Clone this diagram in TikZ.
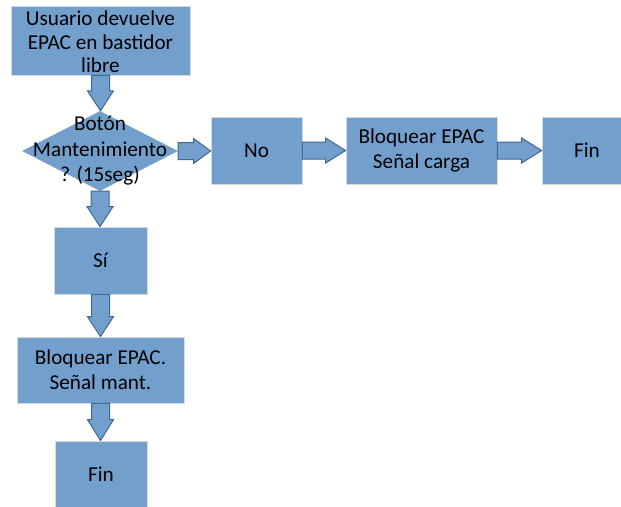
\documentclass[tikz,border=0pt]{standalone}
\usepackage{fontspec}
\setmainfont{Carlito}
\usetikzlibrary{shapes.geometric,calc}

\definecolor{boxblue}{HTML}{739FCD}
\definecolor{boxedge}{HTML}{D3DAE4}
\definecolor{arrowedge}{HTML}{3E6897}

\tikzset{
  box/.style={rectangle, fill=boxblue, draw=boxedge, line width=0.8pt,
    inner sep=0pt, align=center, text=black,
    font=\fontsize{21.2}{25}\selectfont},
  decision/.style={diamond, fill=boxblue, draw=none, inner sep=0pt},
  decisiontext/.style={align=center, inner sep=0pt, text=black,
    font=\fontsize{21.2}{25.5}\selectfont},
  blockarrow/.style={fill=boxblue, draw=arrowedge, line width=1pt,
    line join=miter}
}

% block arrow pointing down from #1.south to #2.north, head length #3
\newcommand\flowdown[3]{%
  \filldraw[blockarrow] let \p1=(#1.south), \p2=(#2.north) in
    (\x1-9pt,\y1) -- (\x1-9pt,\y2+#3) -- (\x1-13pt,\y2+#3) -- (\x1,\y2)
    -- (\x1+13pt,\y2+#3) -- (\x1+9pt,\y2+#3) -- (\x1+9pt,\y1) -- cycle;}
% block arrow pointing right from #1.east to #2.west, head length #3
\newcommand\flowright[3]{%
  \filldraw[blockarrow] let \p1=(#1.east), \p2=(#2.west) in
    (\x1,\y1-8.5pt) -- (\x2-#3,\y1-8.5pt) -- (\x2-#3,\y1-12.5pt) -- (\x2,\y1)
    -- (\x2-#3,\y1+12.5pt) -- (\x2-#3,\y1+8.5pt) -- (\x1,\y1+8.5pt) -- cycle;}

\begin{document}
\begin{tikzpicture}[x=1pt, y=-1pt]
  \clip (0,0) rectangle (621,506);
  \fill[white] (0,0) rectangle (621,506);

  % left column
  \node[box, minimum width=179pt, minimum height=69pt,
        font=\fontsize{21.2}{23.5}\selectfont] (start) at (100.5,40.5) {};
  \node[align=center, inner sep=0pt, text=black,
        font=\fontsize{21.2}{23.5}\selectfont] (starttext) at (100.5,42)
    {Usuario devuelve\\EPAC en bastidor\\libre};
  \node[decision, minimum width=156pt, minimum height=80pt] (ask) at (100,151) {};
  \node[decisiontext] (asktext) at (ask) {Botón\\Mantenimiento\\? (15seg)};
  \node[box, minimum width=93pt, minimum height=67pt] (yes) at (100.5,260.5) {Sí};
  \node[box, minimum width=167pt, minimum height=66pt] (lockmant) at (100.5,370)
    {Bloquear EPAC.\\Señal mant.};
  \node[box, minimum width=92pt, minimum height=66pt] (endleft) at (101,474) {Fin};

  % right row
  \node[box, minimum width=91pt, minimum height=67pt] (no) at (256.5,150.5) {No};
  \node[box, minimum width=151pt, minimum height=67pt] (lockload) at (421.5,150.5)
    {Bloquear EPAC\\Señal carga};
  \node[box, minimum width=90pt, minimum height=67pt] (endright) at (587,150.5) {Fin};

  % connectors
  \flowdown{start}{ask}{20pt}
  \flowdown{ask}{yes}{20pt}
  \flowdown{yes}{lockmant}{20pt}
  \flowdown{lockmant}{endleft}{21pt}
  \flowright{ask}{no}{17pt}
  \flowright{no}{lockload}{20pt}
  \flowright{lockload}{endright}{20pt}
\end{tikzpicture}
\end{document}
